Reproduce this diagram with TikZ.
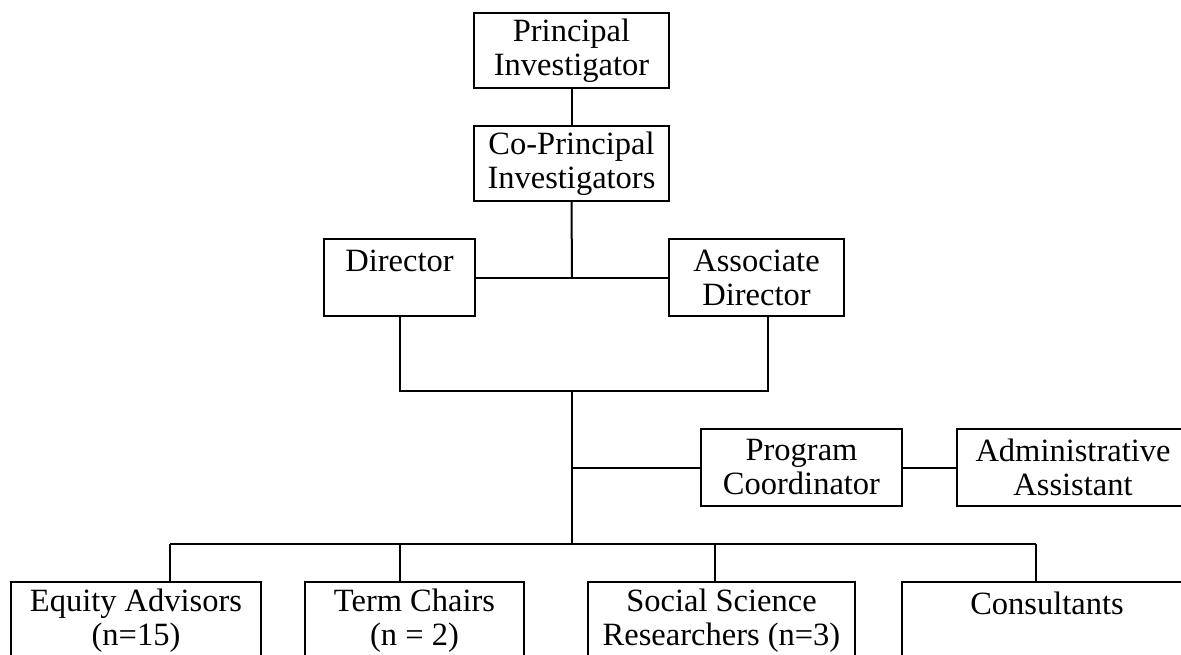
\documentclass[tikz,border=0pt]{standalone}
\usepackage{fontspec}
\setmainfont{Liberation Serif}
\begin{document}
\begin{tikzpicture}[x=1pt,y=-1pt,line width=2pt,
  box/.style={draw, rectangle, inner sep=0pt, align=center,
    font=\fontsize{32.5}{34}\selectfont, line width=2pt},
  conn/.style={draw, line width=2pt}]
\useasboundingbox (0,0) rectangle (1181,654);
\clip (0,0) rectangle (1181,654);
\node[box, minimum width=195pt, minimum height=75pt] (pi) at (571.5,50.5) {Principal\\Investigator};
\node[box, minimum width=195pt, minimum height=75pt] (copi) at (571.5,163.5) {Co-Principal\\Investigators};
\node[box, minimum width=151pt, minimum height=77pt] (dir) at (399.5,277.5) {Director\\\phantom{X}};
\node[box, minimum width=175pt, minimum height=77pt] (assoc) at (756.5,277.5) {Associate\\Director};
\node[box, minimum width=201pt, minimum height=77pt] (prog) at (801.5,467.5) {Program\\Coordinator};
\node[box, minimum width=232pt, minimum height=77pt] (admin) at (1073,467.5) {Administrative\\Assistant};
\node[box, minimum width=250pt, minimum height=77pt] (eq) at (136,620.5) {Equity Advisors\\(n=15)};
\node[box, minimum width=219pt, minimum height=77pt] (tc) at (414.5,620.5) {Term Chairs\\(n = 2)};
\node[box, minimum width=267pt, minimum height=77pt] (ss) at (721.5,620.5) {Social Science\\Researchers (n=3)};
\node[box, minimum width=290pt, minimum height=77pt] (cons) at (1047,620.5) {Consultants\\\phantom{X}};

\coordinate (j1) at (572,277.5);
\coordinate (bk) at (572,391);
\coordinate (b1) at (170,544);
\coordinate (b2) at (400,544);
\coordinate (b3) at (715,544);
\coordinate (b4) at (1036,544);
\coordinate (bus) at (572,544);
\coordinate (ad) at ([xshift=100pt]assoc.south west);

\draw[conn] (pi.south) -- (copi.north);
\draw[conn] (copi.south) -- (j1);
\draw[conn] (dir.east) -- (assoc.west);
\draw[conn] (dir.south) -- (dir.south |- bk) -- (ad |- bk) -- (ad);
\draw[conn] (bk) -- (bus);
\draw[conn] (prog.west -| bk) -- (prog.west);
\draw[conn] (prog.east) -- (admin.west);
\draw[conn] (b1) -- (b4);
\draw[conn] (b1) -- (b1 |- eq.north);
\draw[conn] (b2) -- (b2 |- tc.north);
\draw[conn] (b3) -- (b3 |- ss.north);
\draw[conn] (b4) -- (b4 |- cons.north);
\end{tikzpicture}
\end{document}
